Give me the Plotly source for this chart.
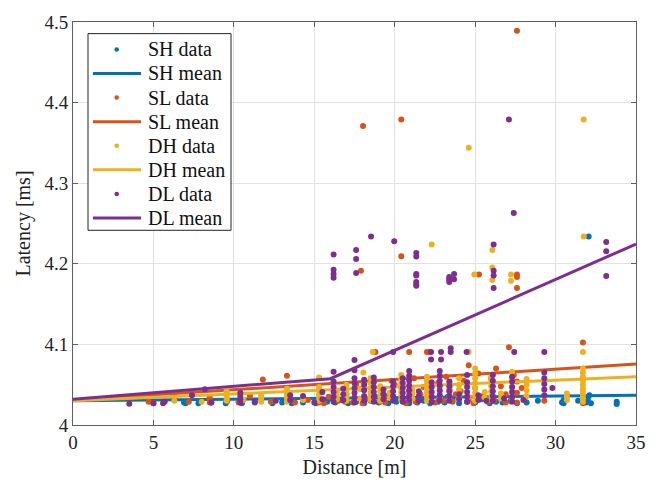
import plotly.graph_objects as go

# ---- measured latency samples (distance in m, latency in ms) ----
sh_x = [6.9, 7.0, 7.8, 8.6, 9.5, 10.3, 10.5, 11.3, 12.4, 13.0, 13.6, 14.3, 15.1, 15.8,
        16.3, 16.7, 17.1, 17.6, 18.1, 18.5, 19.0, 19.3, 19.6, 20.1, 20.5, 20.9, 21.4,
        21.8, 22.2, 22.7, 23.1, 23.6, 24.0, 24.5, 25.0, 25.4, 25.9, 26.3, 26.7, 27.2,
        27.6, 28.2, 28.9, 30.4, 30.5, 31.4, 31.9, 32.0, 32.2, 33.8, 33.8, 32.06,
        30.5, 32.0, 32.1, 16.0, 18.8, 21.0, 23.3, 25.6]
sh_y = [4.028, 4.027, 4.027, 4.028, 4.027, 4.029, 4.027, 4.028, 4.027, 4.028, 4.027, 4.028,
        4.027, 4.029, 4.028, 4.031, 4.027, 4.029, 4.027, 4.030, 4.028, 4.033, 4.027, 4.029,
        4.031, 4.027, 4.028, 4.030, 4.027, 4.029, 4.028, 4.031, 4.027, 4.029, 4.028, 4.032,
        4.027, 4.029, 4.028, 4.030, 4.027, 4.028, 4.030, 4.028, 4.031, 4.030, 4.028, 4.031,
        4.027, 4.026, 4.029, 4.234,
        4.027, 4.034, 4.037, 4.033, 4.035, 4.034, 4.035, 4.034]

sl_x = [4.7, 5.0, 7.2, 8.5, 8.5, 8.5, 9.6, 10.3, 11.0, 11.8, 12.3, 13.3, 13.8, 14.6, 15.3,
        15.9, 16.2, 16.5, 17.0, 17.4, 17.9, 18.2, 18.8, 18.6, 19.1, 19.6, 20.0, 20.4, 20.9,
        20.9, 21.3, 21.8, 22.0, 22.15, 22.3, 22.7, 23.0, 23.4, 23.8, 24.3, 24.6, 25.0, 25.24,
        25.5, 26.0, 26.2, 26.6, 27.1, 27.4, 27.6, 27.6, 27.6, 28.1, 29.3, 31.7, 31.7,
        27.6, 18.03, 20.41, 17.9, 20.41, 27.6, 27.6, 27.6,
        15.6, 16.9, 18.0, 19.4, 20.7, 21.6, 22.5, 23.6, 24.1, 24.9, 25.8, 26.9, 26.9,
        27.9, 17.6, 19.8, 21.2, 23.2, 25.2, 26.3, 24.6]
sl_y = [4.029, 4.027, 4.029, 4.028, 4.031, 4.034, 4.030, 4.028, 4.036, 4.0565, 4.029, 4.061,
        4.028, 4.031, 4.028, 4.035, 4.043, 4.030, 4.038, 4.028, 4.045, 4.032, 4.0905, 4.040,
        4.029, 4.036, 4.050, 4.033, 4.0905, 4.042, 4.029, 4.047, 4.0905, 4.0905, 4.035, 4.052,
        4.030, 4.044, 4.038, 4.055, 4.031, 4.046, 4.1867, 4.036, 4.058, 4.030, 4.048, 4.0965,
        4.062, 4.054, 4.040, 4.028, 4.034, 4.030, 4.1025, 4.027,
        4.489, 4.371, 4.379, 4.1915, 4.2095, 4.1867, 4.1835, 4.170,
        4.027, 4.029, 4.027, 4.028, 4.027, 4.038, 4.028, 4.029, 4.042, 4.027, 4.029, 4.028,
        4.038, 4.046, 4.050, 4.055, 4.058, 4.060, 4.064, 4.070, 4.074]

dh_x = [6.3, 8.0,
        9.55, 9.55, 9.55, 9.55, 9.55,
        10.6, 11.7, 11.7, 11.7, 12.6,
        13.3, 13.3, 13.3, 13.3, 13.3, 14.3,
        15.3, 15.3, 15.3, 15.3, 15.3, 15.3,
        16.4, 16.4, 16.4,
        17.0, 17.0, 17.0, 17.0, 17.0, 17.8, 17.8, 18.05,
        18.5, 18.5, 18.5, 18.5, 18.5, 18.5, 18.63,
        19.1, 19.1, 19.1, 19.1, 19.7, 19.7,
        20.4, 20.4, 20.4, 20.4, 20.4, 20.4, 20.4,
        21.1, 21.1, 21.1,
        22.0, 22.0, 22.0, 22.0, 22.0, 22.0, 22.0, 22.3,
        22.8, 22.8, 22.8,
        23.4, 23.4, 23.4, 23.4, 23.4,
        24.0, 24.0, 24.0, 24.0, 24.0,
        24.6, 24.6, 24.6, 24.95,
        25.0, 25.0, 25.0, 25.0, 25.0, 25.0, 25.0, 25.0, 25.6, 25.6,
        26.07, 26.07, 26.07,
        26.0, 26.0, 26.0, 26.0, 26.0, 26.0, 26.6, 26.6,
        27.23, 27.23,
        27.3, 27.3, 27.3, 27.3, 27.3, 27.3, 27.3,
        28.2, 28.2, 28.2, 28.2,
        30.7, 30.7, 30.7,
        31.7, 31.7, 31.7, 31.7, 31.7, 31.7, 31.7, 31.7, 31.7, 31.7, 31.7, 31.75, 31.75]
dh_y = [4.030, 4.029,
        4.030, 4.033, 4.036, 4.039, 4.042,
        4.031, 4.029, 4.033, 4.037, 4.030,
        4.029, 4.033, 4.037, 4.041, 4.045, 4.031,
        4.030, 4.034, 4.038, 4.043, 4.047, 4.059,
        4.032, 4.036, 4.041,
        4.030, 4.034, 4.039, 4.044, 4.050, 4.033, 4.045, 4.065,
        4.031, 4.035, 4.040, 4.046, 4.052, 4.058, 4.0905,
        4.030, 4.036, 4.042, 4.048, 4.034, 4.040,
        4.031, 4.036, 4.041, 4.046, 4.051, 4.056, 4.062,
        4.033, 4.039, 4.044,
        4.030, 4.035, 4.040, 4.045, 4.050, 4.055, 4.060, 4.224,
        4.034, 4.041, 4.048,
        4.031, 4.036, 4.042, 4.047, 4.053,
        4.033, 4.038, 4.044, 4.050, 4.058,
        4.0905, 4.344, 4.035, 4.1867,
        4.030, 4.035, 4.040, 4.046, 4.052, 4.058, 4.064, 4.070, 4.034, 4.041,
        4.217, 4.1955, 4.180,
        4.031, 4.036, 4.042, 4.048, 4.054, 4.060, 4.033, 4.039,
        4.1867, 4.179,
        4.030, 4.035, 4.041, 4.047, 4.053, 4.059, 4.066,
        4.036, 4.043, 4.050, 4.057,
        4.031, 4.035, 4.039,
        4.029, 4.033, 4.037, 4.041, 4.045, 4.050, 4.055, 4.060, 4.065, 4.070, 4.0905, 4.234, 4.379]

dl_x = [3.5, 5.0, 5.6, 5.7, 7.4, 8.2, 8.6,
        10.4, 10.4, 10.4, 10.4, 11.3, 12.6, 13.5, 13.5, 14.3, 15.0, 15.5, 15.5,
        16.2, 16.2, 16.2, 16.2, 16.2, 16.2, 16.2, 16.2, 16.2, 16.2,
        16.8, 16.8, 16.8,
        17.5, 17.5, 17.5, 17.5, 17.5, 17.5, 17.5, 17.5, 17.6, 17.6, 17.6,
        18.1, 18.1, 18.1, 18.1, 18.1, 18.53,
        18.7, 18.7, 18.7, 18.7, 18.7, 18.7,
        19.3, 19.3, 19.3,
        19.9, 19.9, 19.9, 19.9, 19.9, 19.9, 19.97,
        20.5, 20.5, 20.5, 20.5, 20.5, 20.5,
        20.9, 20.9, 20.9, 20.9, 20.9, 20.9, 20.9,
        21.34, 21.34, 21.34, 21.34, 21.34, 21.34, 21.34,
        21.5, 21.5, 21.5, 22.26, 22.26,
        22.3, 22.3, 22.3, 22.3, 22.3, 22.88, 22.88,
        22.8, 22.8, 22.8, 22.8, 22.8, 22.8, 22.8,
        23.39, 23.39, 23.39, 23.48, 23.48,
        23.4, 23.4, 23.4, 23.4, 23.4, 23.69, 23.69,
        24.0, 24.0, 24.47,
        24.5, 24.5, 24.5, 24.5, 24.5, 24.5,
        25.2, 25.2, 25.7,
        26.1, 26.1, 26.1, 26.1, 26.1, 26.1,
        26.15, 26.15, 26.15, 26.15, 26.8, 27.1, 27.4,
        27.3, 27.3, 27.3, 27.3, 27.3, 27.3, 27.43, 28.0,
        29.3, 29.3, 29.3, 29.3, 29.3, 29.3, 29.8,
        33.15, 33.15, 33.15]
dl_y = [4.0265, 4.027, 4.027, 4.029, 4.037, 4.0445, 4.028,
        4.028, 4.032, 4.036, 4.040, 4.029, 4.030, 4.031, 4.037, 4.036, 4.028, 4.032, 4.041,
        4.029, 4.035, 4.041, 4.047, 4.054, 4.066, 4.1827, 4.1875, 4.1927, 4.2115,
        4.031, 4.038, 4.045,
        4.028, 4.034, 4.040, 4.046, 4.052, 4.058, 4.068, 4.0805, 4.1887, 4.206, 4.217,
        4.030, 4.036, 4.043, 4.050, 4.056, 4.234,
        4.029, 4.035, 4.041, 4.047, 4.053, 4.059,
        4.032, 4.038, 4.044,
        4.030, 4.036, 4.042, 4.048, 4.054, 4.0905, 4.228,
        4.029, 4.034, 4.040, 4.046, 4.052, 4.058,
        4.031, 4.037, 4.043, 4.049, 4.055, 4.061, 4.067,
        4.2135, 4.209, 4.1875, 4.1855, 4.1775, 4.175, 4.1727,
        4.030, 4.036, 4.042, 4.0905, 4.0813,
        4.029, 4.035, 4.041, 4.047, 4.053, 4.0905, 4.0813,
        4.031, 4.037, 4.043, 4.049, 4.055, 4.061, 4.067,
        4.1835, 4.1807, 4.1775, 4.0953, 4.0905,
        4.030, 4.036, 4.042, 4.048, 4.054, 4.1875, 4.1807,
        4.032, 4.038, 4.0905,
        4.029, 4.035, 4.041, 4.047, 4.053, 4.062,
        4.031, 4.037, 4.030,
        4.030, 4.036, 4.042, 4.048, 4.055, 4.062,
        4.224, 4.1915, 4.1855, 4.170, 4.033, 4.379, 4.263,
        4.029, 4.035, 4.041, 4.047, 4.054, 4.060, 4.0905, 4.031,
        4.037, 4.044, 4.051, 4.058, 4.065, 4.0905, 4.046,
        4.227, 4.2155, 4.185]

# ---- mean latency versus distance ----
sh_mean_x = [0, 35]
sh_mean_y = [4.030, 4.037]
sl_mean_x = [0, 35]
sl_mean_y = [4.031, 4.0757]
dh_mean_x = [0, 35]
dh_mean_y = [4.030, 4.060]
dl_mean_x = [0, 16.0, 35]
dl_mean_y = [4.032, 4.0575, 4.2245]

colors = {"SH": "#0072BD", "SL": "#D95319", "DH": "#EDB120", "DL": "#7E2F8E"}
series = [
    ("SH", sh_x, sh_y, sh_mean_x, sh_mean_y),
    ("SL", sl_x, sl_y, sl_mean_x, sl_mean_y),
    ("DH", dh_x, dh_y, dh_mean_x, dh_mean_y),
    ("DL", dl_x, dl_y, dl_mean_x, dl_mean_y),
]

FONT = "Liberation Serif, Times New Roman, serif"
W, H = 661, 487
ML, MR, MT, MB = 73, 25, 15, 56
PW, PH = W - ML - MR, H - MT - MB

fig = go.Figure()
for name, x, y, mx, my in series:
    c = colors[name]
    fig.add_trace(go.Scatter(
        x=x, y=y, mode="markers", name=f"{name} data", showlegend=False,
        marker=dict(color=c, size=6, symbol="circle", line=dict(width=0)),
    ))
    fig.add_trace(go.Scatter(
        x=mx, y=my, mode="lines", name=f"{name} mean", showlegend=False,
        line=dict(color=c, width=3),
    ))


# ---- legend box drawn in pixel units of the plot area ----
def px(v):
    return (v - ML) / PW


def py(v):
    return (MT + PH - v) / PH


shapes = [dict(type="rect", xref="paper", yref="paper",
               x0=px(88), x1=px(231), y0=py(27), y1=py(230),
               line=dict(color="#222", width=1), fillcolor="white", layer="above")]
annotations = []
row_y0, row_step = 43.3, 24.86
for i, (name, *_rest) in enumerate(series):
    c = colors[name]
    for j, kind in enumerate(("data", "mean")):
        yc = row_y0 + row_step * (2 * i + j)
        if kind == "data":
            r = 2.3
            shapes.append(dict(type="circle", xref="paper", yref="paper",
                               x0=px(116.7 - r), x1=px(116.7 + r),
                               y0=py(yc + r), y1=py(yc - r),
                               line=dict(width=0), fillcolor=c, layer="above"))
        else:
            shapes.append(dict(type="line", xref="paper", yref="paper",
                               x0=px(93), x1=px(141), y0=py(yc), y1=py(yc),
                               line=dict(color=c, width=3), layer="above"))
        annotations.append(dict(xref="paper", yref="paper", x=px(146), y=py(yc),
                                xanchor="left", yanchor="middle", showarrow=False,
                                text=f"{name} {kind}",
                                font=dict(family=FONT, size=20, color="#111")))

axis_common = dict(
    showgrid=True, gridcolor="#e2e2e2", gridwidth=1,
    showline=True, linecolor="#5e5e5e", linewidth=1, mirror="allticks",
    ticks="inside", ticklen=5, tickcolor="#5e5e5e",
    zeroline=False,
    tickfont=dict(family=FONT, size=19, color="#222"),
)
fig.update_xaxes(
    range=[0, 35], tickvals=[0, 5, 10, 15, 20, 25, 30, 35],
    title=dict(text="Distance [m]", font=dict(family=FONT, size=20, color="#222"), standoff=8),
    **axis_common,
)
fig.update_yaxes(
    range=[4.0, 4.5], tickvals=[4.0, 4.1, 4.2, 4.3, 4.4, 4.5],
    ticktext=["4", "4.1", "4.2", "4.3", "4.4", "4.5"],
    title=dict(text="Latency [ms]", font=dict(family=FONT, size=20, color="#222"), standoff=8),
    **axis_common,
)
fig.update_layout(
    width=W, height=H,
    margin=dict(l=ML, r=MR, t=MT, b=MB),
    paper_bgcolor="white", plot_bgcolor="white",
    font=dict(family=FONT, size=19, color="#111"),
    shapes=shapes, annotations=annotations,
    showlegend=False,
)
fig.write_html("out.html")
